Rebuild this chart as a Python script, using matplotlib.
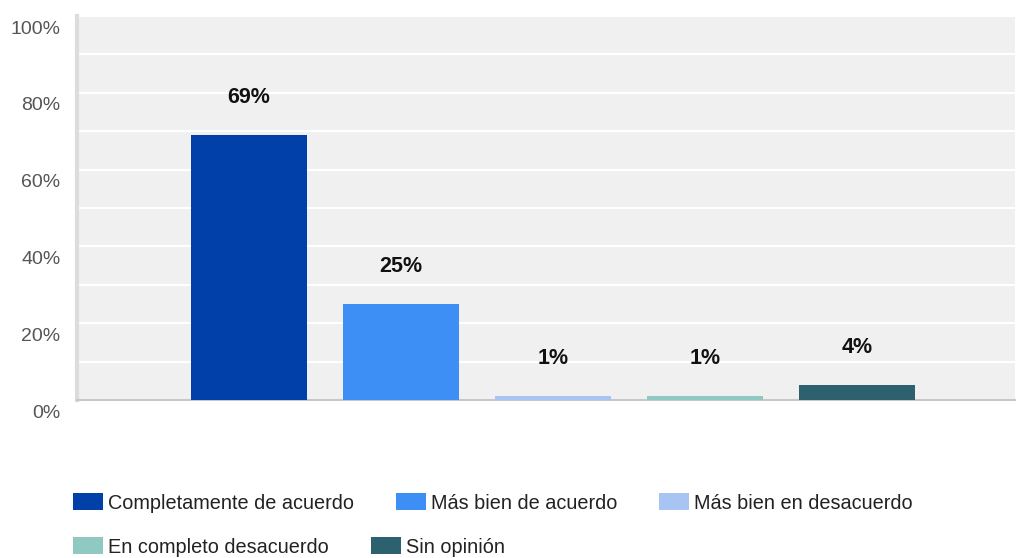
import numpy as np
import matplotlib
matplotlib.use("Agg")
from matplotlib import pyplot as plt
from matplotlib.patches import Patch
import matplotlib.transforms as mtransforms

plt.rcParams['font.family'] = ['Liberation Sans', 'DejaVu Sans']

# data
categories = ['Completamente de acuerdo', 'Más bien de acuerdo',
              'Más bien en desacuerdo', 'En completo desacuerdo', 'Sin opinión']
values = [69, 25, 1, 1, 4]
colors = ['#0040A8', '#3D8EF5', '#A8C4F2', '#8FC9C2', '#2D6170']
yticks = [0, 20, 40, 60, 80, 100]

fig = plt.figure(figsize=(10.18, 5.58), dpi=100)
ax = fig.add_axes([77/1018, 1-400/558, 938/1018, 384/558])
ax.set_facecolor('#F0F0F0')

x = np.arange(len(values))
bars = ax.bar(x, values, width=0.763, color=colors, zorder=3)

for xi, v in zip(x, values):
    ax.annotate('%d%%' % v, (xi, v), xytext=(0, 27), textcoords='offset points',
                ha='center', va='center', fontsize=15.5, fontweight='bold',
                color='#111111')

ax.set_xlim(-1.128, 5.04)
ax.set_ylim(0, 100)
ax.set_xticks([])
ax.set_yticks(yticks)
ax.set_yticklabels(['%d%%' % t for t in yticks])
ax.set_yticks(np.arange(10, 100, 20), minor=True)
ax.grid(axis='y', which='both', color='white', linewidth=1.6, zorder=1)
ax.tick_params(axis='y', which='both', length=0, pad=12, labelsize=14,
               labelcolor='#555555')

off = mtransforms.ScaledTranslation(0, -8/72, fig.dpi_scale_trans)
for lab in ax.get_yticklabels():
    lab.set_transform(lab.get_transform() + off)

for s in ['top', 'right']:
    ax.spines[s].set_visible(False)
ax.spines['bottom'].set_color('#C8C8C8')
ax.spines['bottom'].set_linewidth(1.5)
ax.spines['left'].set_color('#DCDCDC')
ax.spines['left'].set_linewidth(3)

handles = [Patch(facecolor=c, edgecolor='none') for c in colors]
fs = 14.3
em = fs * 100 / 72
common = dict(frameon=False, fontsize=fs, handlelength=30/em, handleheight=18/em,
              handletextpad=5/em, columnspacing=42/em, borderpad=0,
              borderaxespad=0, loc='center left')
leg1 = fig.legend(handles[:3], categories[:3], ncol=3,
                  bbox_to_anchor=(73/1018, 1-503/558), **common)
leg2 = fig.legend(handles[3:], categories[3:], ncol=2,
                  bbox_to_anchor=(73/1018, 1-547/558), **common)
for leg in (leg1, leg2):
    for t in leg.get_texts():
        t.set_color('#222222')

fig.savefig('out.png', dpi=100)
